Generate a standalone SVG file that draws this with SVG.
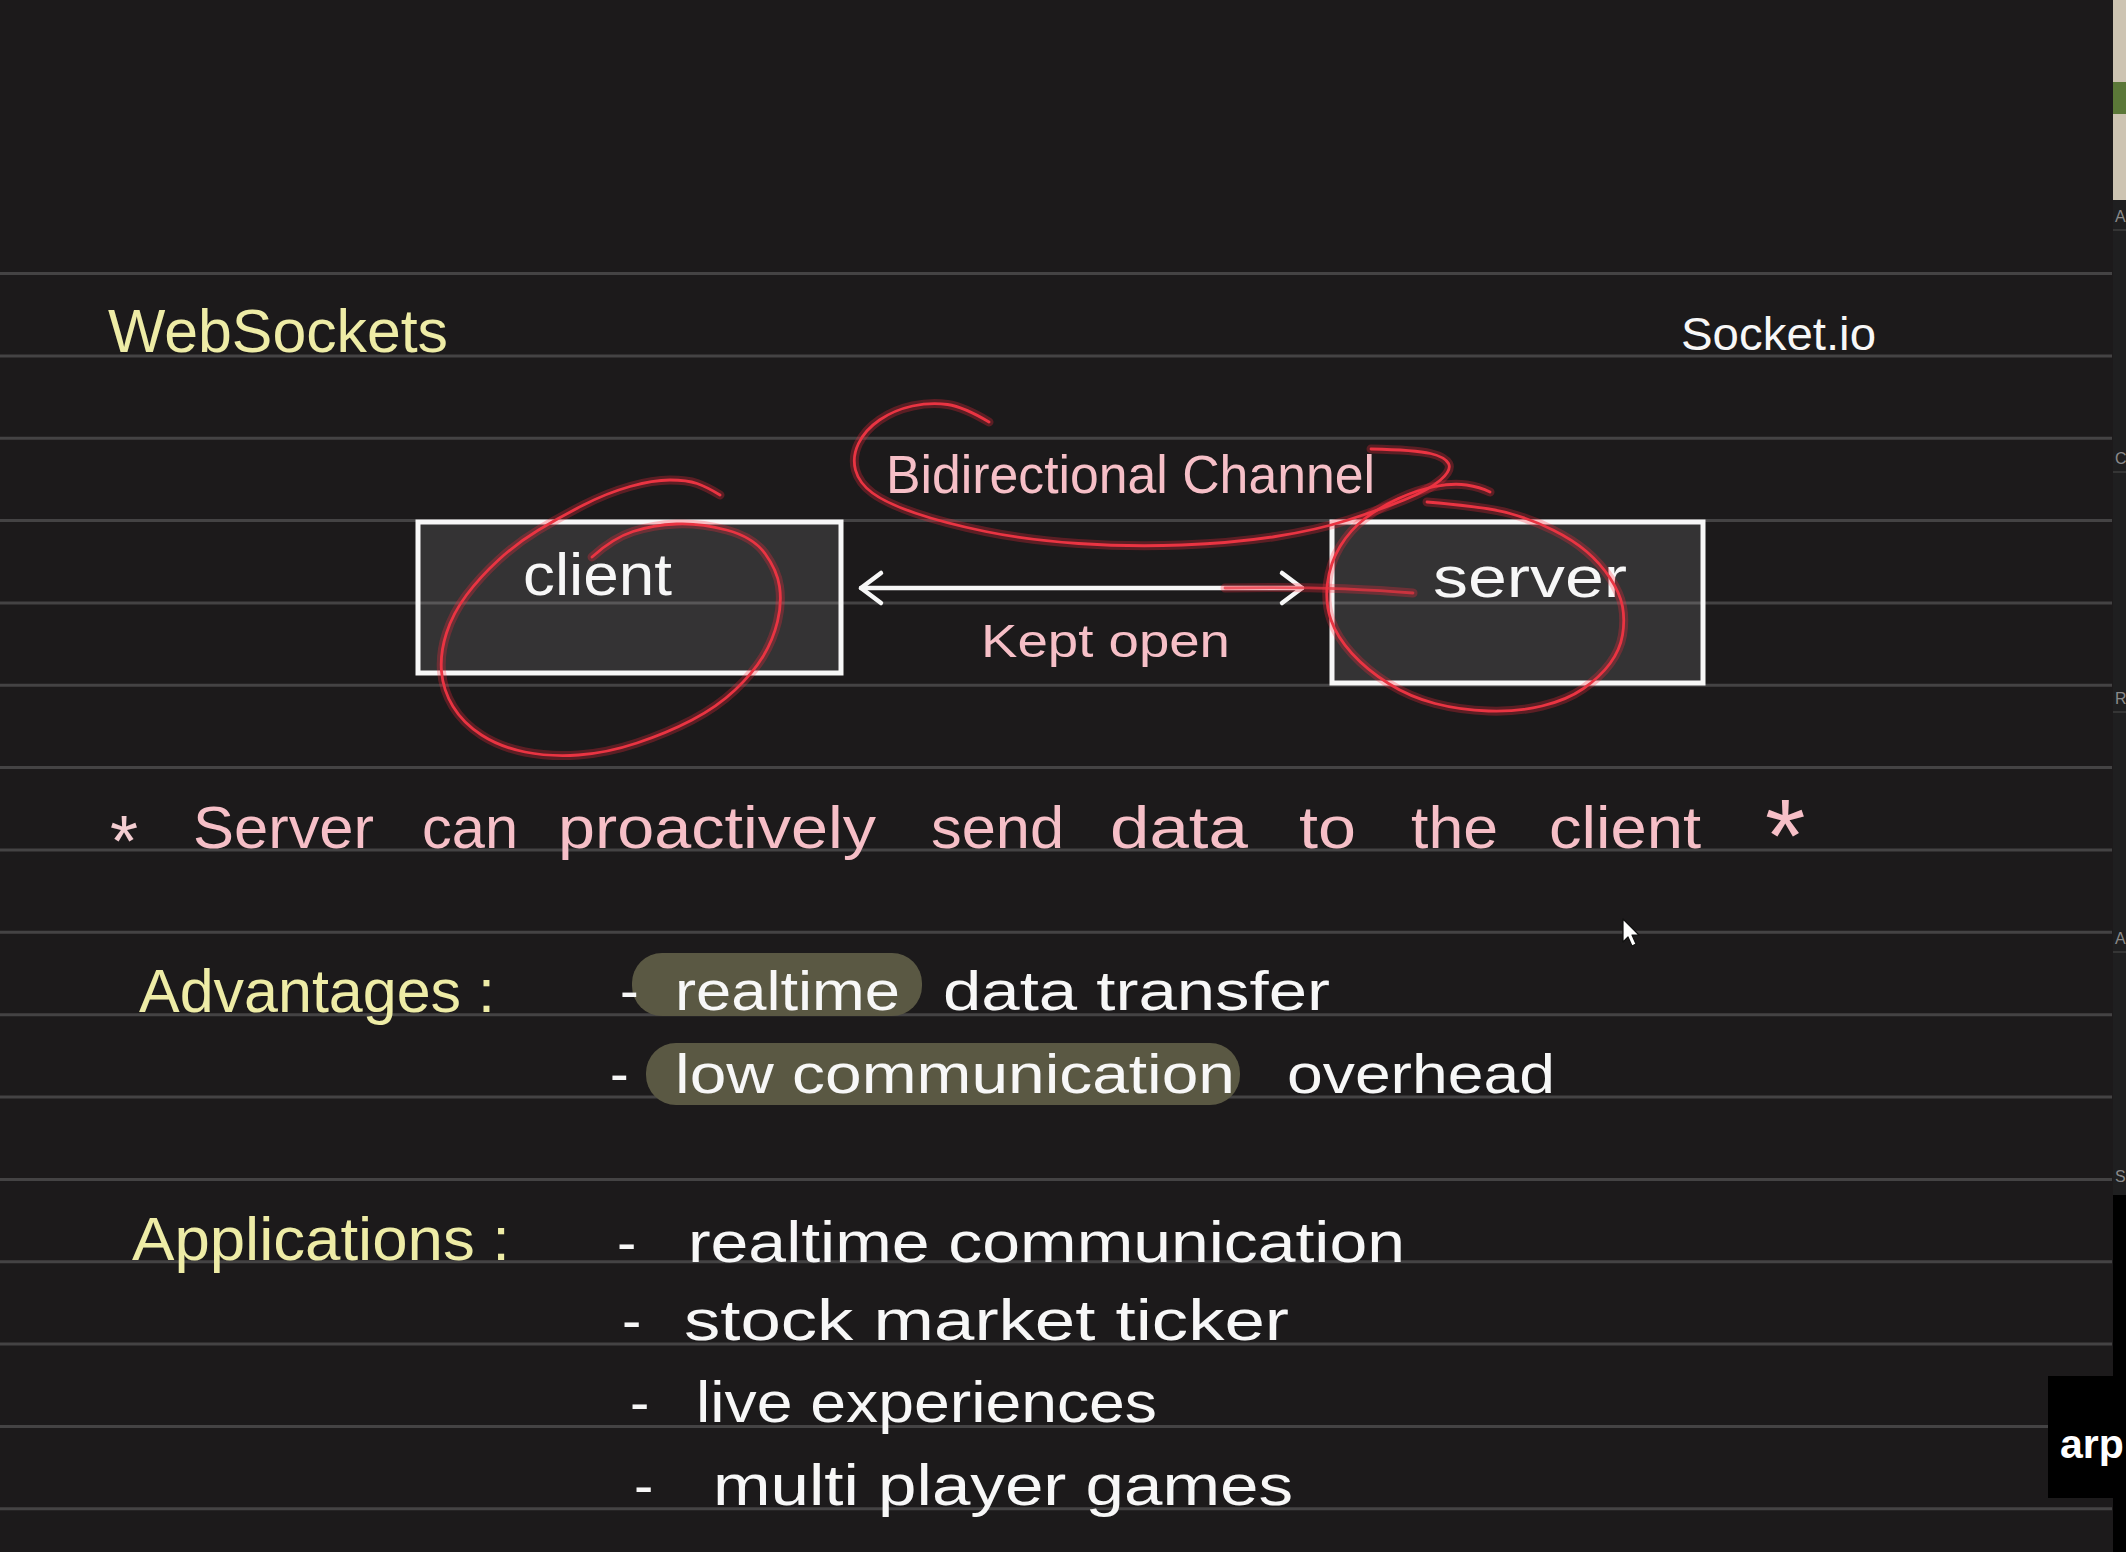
<svg xmlns="http://www.w3.org/2000/svg" width="2126" height="1552" viewBox="0 0 2126 1552">
<style>
.rule{stroke:#444344;stroke-width:3}
.t{font-family:"Liberation Sans",Arial,sans-serif}
.yel{fill:#eeeca6}
.pink{fill:#f6bfc7}
.wht{fill:#f7f7f7}
.box{fill:#ffffff;fill-opacity:0.11;stroke:#f7f7f7;stroke-width:5}
.hl{fill:#5a5843}
.glow{fill:none;stroke:#ff2a3c;stroke-opacity:0.28;stroke-width:9;stroke-linecap:round;stroke-linejoin:round}
.red{fill:none;stroke:#ea3442;stroke-width:2.8;stroke-linecap:round;stroke-linejoin:round}
.tile{fill:#8a8a8a;font-family:"Liberation Sans",Arial,sans-serif;font-size:16px}
</style>
<defs>
<marker id="chev" markerUnits="userSpaceOnUse" markerWidth="32" markerHeight="40" viewBox="-26 -20 32 40" refX="0" refY="0" orient="auto-start-reverse">
<path d="M-20,-15 L0,0 L-20,15" fill="none" stroke="#f7f7f7" stroke-width="4.5" stroke-linecap="round" stroke-linejoin="round"/>
</marker>
</defs>
<rect x="0" y="0" width="2126" height="1552" fill="#1c1a1b"/>
<g id="ruling">
<line class="rule" x1="0" y1="273.5" x2="2112" y2="273.5"/>
<line class="rule" x1="0" y1="355.9" x2="2112" y2="355.9"/>
<line class="rule" x1="0" y1="438.2" x2="2112" y2="438.2"/>
<line class="rule" x1="0" y1="520.6" x2="2112" y2="520.6"/>
<line class="rule" x1="0" y1="602.9" x2="2112" y2="602.9"/>
<line class="rule" x1="0" y1="685.3" x2="2112" y2="685.3"/>
<line class="rule" x1="0" y1="767.6" x2="2112" y2="767.6"/>
<line class="rule" x1="0" y1="850" x2="2112" y2="850"/>
<line class="rule" x1="0" y1="932.3" x2="2112" y2="932.3"/>
<line class="rule" x1="0" y1="1014.7" x2="2112" y2="1014.7"/>
<line class="rule" x1="0" y1="1097" x2="2112" y2="1097"/>
<line class="rule" x1="0" y1="1179.4" x2="2112" y2="1179.4"/>
<line class="rule" x1="0" y1="1261.7" x2="2112" y2="1261.7"/>
<line class="rule" x1="0" y1="1344.1" x2="2112" y2="1344.1"/>
<line class="rule" x1="0" y1="1426.4" x2="2112" y2="1426.4"/>
<line class="rule" x1="0" y1="1508.8" x2="2112" y2="1508.8"/>
</g>
<g id="title">
<text class="t yel" x="108" y="352" font-size="62" textLength="340" lengthAdjust="spacingAndGlyphs">WebSockets</text>
</g>
<g id="socketio">
<text class="t wht" x="1681" y="350" font-size="46" textLength="195" lengthAdjust="spacingAndGlyphs">Socket.io</text>
</g>
<g id="client">
<rect class="box" x="418" y="522" width="423" height="151"/>
<text class="t wht" x="523" y="595" font-size="60" textLength="149" lengthAdjust="spacingAndGlyphs">client</text>
</g>
<g id="server">
<rect class="box" x="1332" y="522" width="371" height="161"/>
<text class="t wht" x="1433" y="597" font-size="58" textLength="194" lengthAdjust="spacingAndGlyphs">server</text>
</g>
<g id="connectors">
<line x1="861" y1="588" x2="1302" y2="588" stroke="#f7f7f7" stroke-width="4.5" stroke-linecap="round" marker-start="url(#chev)" marker-end="url(#chev)"/>
</g>
<g id="channel-label">
<text class="t pink" x="886" y="493" font-size="54" textLength="489" lengthAdjust="spacingAndGlyphs">Bidirectional Channel</text>
<text class="t pink" x="981" y="657" font-size="46" textLength="249" lengthAdjust="spacingAndGlyphs">Kept open</text>
</g>
<g id="annotations">
<path class="glow" d="M592,557 Q613,538 633,531.5 Q653,525 676.5,524 Q700,523 726.5,530 Q753,537 765,553.5 Q777,570 779.5,586.5 Q782,603 777.5,621.5 Q773,640 763,656.5 Q753,673 735,690 Q717,707 692,720 Q667,733 637,743 Q607,753 578.5,755 Q550,757 525,752 Q500,747 481.5,735 Q463,723 453,706.5 Q443,690 441.5,671.5 Q440,653 446.5,633 Q453,613 466.5,595 Q480,577 498.5,560 Q517,543 538.5,530 Q560,517 583.5,505 Q607,493 630,486.5 Q653,480 670,480 Q687,480 697,483.5 Q707,487 720,495"/>
<path class="red" d="M592,557 Q613,538 633,531.5 Q653,525 676.5,524 Q700,523 726.5,530 Q753,537 765,553.5 Q777,570 779.5,586.5 Q782,603 777.5,621.5 Q773,640 763,656.5 Q753,673 735,690 Q717,707 692,720 Q667,733 637,743 Q607,753 578.5,755 Q550,757 525,752 Q500,747 481.5,735 Q463,723 453,706.5 Q443,690 441.5,671.5 Q440,653 446.5,633 Q453,613 466.5,595 Q480,577 498.5,560 Q517,543 538.5,530 Q560,517 583.5,505 Q607,493 630,486.5 Q653,480 670,480 Q687,480 697,483.5 Q707,487 720,495"/>
<path class="glow" d="M1427,502 Q1487,507 1510,513.5 Q1533,520 1553,530 Q1573,540 1586.5,551.5 Q1600,563 1610,578 Q1620,593 1622.5,606.5 Q1625,620 1622.5,635 Q1620,650 1610,663.5 Q1600,677 1583.5,688.5 Q1567,700 1542,706 Q1517,712 1488.5,711 Q1460,710 1435,703.5 Q1410,697 1388.5,683.5 Q1367,670 1352,653.5 Q1337,637 1331,620 Q1325,603 1327.5,583 Q1330,563 1340,546.5 Q1350,530 1365,518.5 Q1380,507 1398.5,498.5 Q1417,490 1435,486.5 Q1453,483 1466.5,485 Q1480,487 1490,492"/>
<path class="red" d="M1427,502 Q1487,507 1510,513.5 Q1533,520 1553,530 Q1573,540 1586.5,551.5 Q1600,563 1610,578 Q1620,593 1622.5,606.5 Q1625,620 1622.5,635 Q1620,650 1610,663.5 Q1600,677 1583.5,688.5 Q1567,700 1542,706 Q1517,712 1488.5,711 Q1460,710 1435,703.5 Q1410,697 1388.5,683.5 Q1367,670 1352,653.5 Q1337,637 1331,620 Q1325,603 1327.5,583 Q1330,563 1340,546.5 Q1350,530 1365,518.5 Q1380,507 1398.5,498.5 Q1417,490 1435,486.5 Q1453,483 1466.5,485 Q1480,487 1490,492"/>
<path class="glow" d="M989,422 Q964,407 947.5,404.5 Q931,402 912.5,406 Q894,410 879.5,420 Q865,430 858.5,443.5 Q852,457 855.5,470 Q859,483 872.5,493 Q886,503 915,513 Q944,523 985.5,531.5 Q1027,540 1078.5,543.5 Q1130,547 1182,545 Q1234,543 1275.5,536.5 Q1317,530 1348,520 Q1379,510 1404,500 Q1429,490 1440.5,480 Q1452,470 1448.5,463.5 Q1445,457 1430.5,453.5 Q1416,450 1371,449"/>
<path class="red" d="M989,422 Q964,407 947.5,404.5 Q931,402 912.5,406 Q894,410 879.5,420 Q865,430 858.5,443.5 Q852,457 855.5,470 Q859,483 872.5,493 Q886,503 915,513 Q944,523 985.5,531.5 Q1027,540 1078.5,543.5 Q1130,547 1182,545 Q1234,543 1275.5,536.5 Q1317,530 1348,520 Q1379,510 1404,500 Q1429,490 1440.5,480 Q1452,470 1448.5,463.5 Q1445,457 1430.5,453.5 Q1416,450 1371,449"/>
<path class="glow" d="M1225,588 Q1330,586 1413,593"/>
<path class="red" d="M1225,588 Q1330,586 1413,593" stroke-opacity="0.75"/>
</g>
<g id="statement">
<text class="t" x="110" y="866" font-size="72" fill="#f3cdd1">*</text>
<text class="t pink" y="848" font-size="60">
<tspan x="193" textLength="181" lengthAdjust="spacingAndGlyphs">Server</tspan>
<tspan x="422" textLength="96" lengthAdjust="spacingAndGlyphs">can</tspan>
<tspan x="558" textLength="318" lengthAdjust="spacingAndGlyphs">proactively</tspan>
<tspan x="931" textLength="133" lengthAdjust="spacingAndGlyphs">send</tspan>
<tspan x="1110" textLength="138" lengthAdjust="spacingAndGlyphs">data</tspan>
<tspan x="1299" textLength="57" lengthAdjust="spacingAndGlyphs">to</tspan>
<tspan x="1411" textLength="87" lengthAdjust="spacingAndGlyphs">the</tspan>
<tspan x="1549" textLength="152" lengthAdjust="spacingAndGlyphs">client</tspan>
</text>
<text class="t pink" x="1765" y="872" font-size="104">*</text>
</g>
<g id="advantages">
<rect class="hl" x="632" y="953" width="290" height="63" rx="30"/>
<rect class="hl" x="646" y="1043" width="594" height="62" rx="30"/>
<text class="t yel" x="139" y="1012" font-size="62" textLength="356" lengthAdjust="spacingAndGlyphs">Advantages :</text>
<text class="t wht" y="1010" font-size="56">
<tspan x="620">-</tspan>
<tspan x="675" textLength="225" lengthAdjust="spacingAndGlyphs">realtime</tspan>
<tspan x="943" textLength="387" lengthAdjust="spacingAndGlyphs">data transfer</tspan>
</text>
<text class="t wht" y="1093" font-size="56">
<tspan x="610">-</tspan>
<tspan x="675" textLength="560" lengthAdjust="spacingAndGlyphs">low communication</tspan>
<tspan x="1287" textLength="268" lengthAdjust="spacingAndGlyphs">overhead</tspan>
</text>
</g>
<g id="applications">
<text class="t yel" x="132" y="1260" font-size="62" textLength="378" lengthAdjust="spacingAndGlyphs">Applications :</text>
<text class="t wht" y="1262" font-size="58"><tspan x="617">-</tspan> <tspan x="688" textLength="717" lengthAdjust="spacingAndGlyphs">realtime communication</tspan></text>
<text class="t wht" y="1340" font-size="58"><tspan x="622">-</tspan> <tspan x="684" textLength="605" lengthAdjust="spacingAndGlyphs">stock market ticker</tspan></text>
<text class="t wht" y="1422" font-size="58"><tspan x="630">-</tspan> <tspan x="696" textLength="461" lengthAdjust="spacingAndGlyphs">live experiences</tspan></text>
<text class="t wht" y="1505" font-size="58"><tspan x="634">-</tspan> <tspan x="713" textLength="580" lengthAdjust="spacingAndGlyphs">multi player games</tspan></text>
</g>
<g id="cursor">
<polygon points="1623,919 1623,942 1628,937 1632,946 1636,944 1632,935 1639,935" fill="#ffffff" stroke="#111111" stroke-width="1.2" stroke-linejoin="round"/>
</g>
<g id="side-strip">
<rect x="2113" y="0" width="13" height="200" fill="#cdc4b2"/>
<rect x="2113" y="82" width="13" height="32" fill="#5b7838"/>
<rect x="2113" y="200" width="13" height="1000" fill="#1f1f20"/>
<line x1="2113" y1="230" x2="2126" y2="230" stroke="#353535" stroke-width="2"/>
<line x1="2113" y1="472" x2="2126" y2="472" stroke="#353535" stroke-width="2"/>
<line x1="2113" y1="712" x2="2126" y2="712" stroke="#353535" stroke-width="2"/>
<line x1="2113" y1="952" x2="2126" y2="952" stroke="#353535" stroke-width="2"/>
<text class="tile" x="2115" y="222">A</text>
<text class="tile" x="2115" y="464">C</text>
<text class="tile" x="2115" y="704">R</text>
<text class="tile" x="2115" y="944">A</text>
<text class="tile" x="2115" y="1182">S</text>
<rect x="2113" y="1195" width="13" height="357" fill="#000000"/>
<rect x="2048" y="1376" width="78" height="122" fill="#000000"/>
<text x="2060" y="1458" font-family="Liberation Sans,Arial,sans-serif" font-weight="bold" font-size="41" fill="#ffffff">arp</text>
</g>
</svg>
